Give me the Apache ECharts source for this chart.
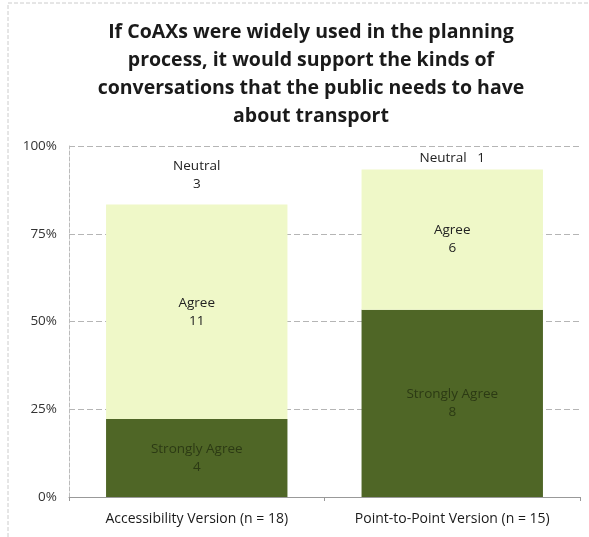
<!DOCTYPE html>
<html><head><meta charset="utf-8">
<script src="https://cdn.jsdelivr.net/npm/echarts@6/dist/echarts.min.js"></script>
<style>html,body{margin:0;padding:0;background:#fff}#c{width:589px;height:537px}</style>
</head><body><div id="c"></div>
<script>
const categories = ['Accessibility Version (n = 18)', 'Point-to-Point Version (n = 15)'];
const totals = [18, 15];
const stronglyAgree = [4, 8];
const agree = [11, 6];
const neutral = [3, 1];
const yTicks = ['0%', '25%', '50%', '75%', '100%'];

const pct = (arr) => arr.map((v, i) => v / totals[i] * 100);
const chart = echarts.init(document.getElementById('c'));
const fontFam = '"Open Sans", "Liberation Sans", sans-serif';
const lbl = (name, arr, color, oneLine) => ({
  show: true, position: 'inside', color: color, fontSize: 13.5, fontFamily: fontFam, lineHeight: 18,
  formatter: p => oneLine ? name + '   ' + arr[p.dataIndex] : name + '\n' + arr[p.dataIndex]
});
chart.setOption({
  animation: false,
  title: {
    text: 'If CoAXs were widely used in the planning\nprocess, it would support the kinds of\nconversations that the public needs to have\nabout transport',
    left: 306, top: 13, textAlign: 'center',
    textStyle: { fontSize: 19.5, fontWeight: 'bold', color: '#1a1a1a', lineHeight: 28, fontFamily: fontFam }
  },
  graphic: [{ type: 'rect', shape: { x: 8, y: 3, width: 600, height: 600 }, style: { fill: 'none', stroke: '#ccc', lineWidth: 1, lineDash: [4, 2] }, silent: true }],
  grid: { left: 69, right: 9, top: 146, bottom: 40 },
  xAxis: {
    type: 'category', data: categories,
    axisLine: { lineStyle: { color: '#999' } },
    axisTick: { show: true, length: 4, lineStyle: { color: '#999' } },
    axisLabel: { color: '#1a1a1a', fontSize: 14, fontFamily: fontFam, margin: 15 }
  },
  yAxis: {
    type: 'value', min: 0, max: 100, interval: 25,
    axisLine: { show: true, lineStyle: { color: '#bbb', type: 'dashed' } },
    axisTick: { show: false },
    axisLabel: { color: '#333', fontSize: 13.5, fontFamily: fontFam, margin: 12, formatter: (v) => yTicks[v / 25] },
    splitLine: { lineStyle: { color: '#b5b5b5', type: [6, 3], width: 1 } }
  },
  series: [
    { name: 'Strongly Agree', type: 'bar', stack: 's', barWidth: '71%', data: pct(stronglyAgree),
      itemStyle: { color: '#4f6626' }, label: lbl('Strongly Agree', stronglyAgree, '#2c3a14', false) },
    { name: 'Agree', type: 'bar', stack: 's', data: pct(agree),
      itemStyle: { color: '#eff8c8' }, label: lbl('Agree', agree, '#222', false) },
    { name: 'Neutral', type: 'bar', stack: 's', data: pct(neutral).map((v, i) => ({ value: v, label: lbl('Neutral', neutral, '#222', i === 1) })),
      itemStyle: { color: 'rgba(255,255,255,0)' } }
  ]
});
</script></body></html>
